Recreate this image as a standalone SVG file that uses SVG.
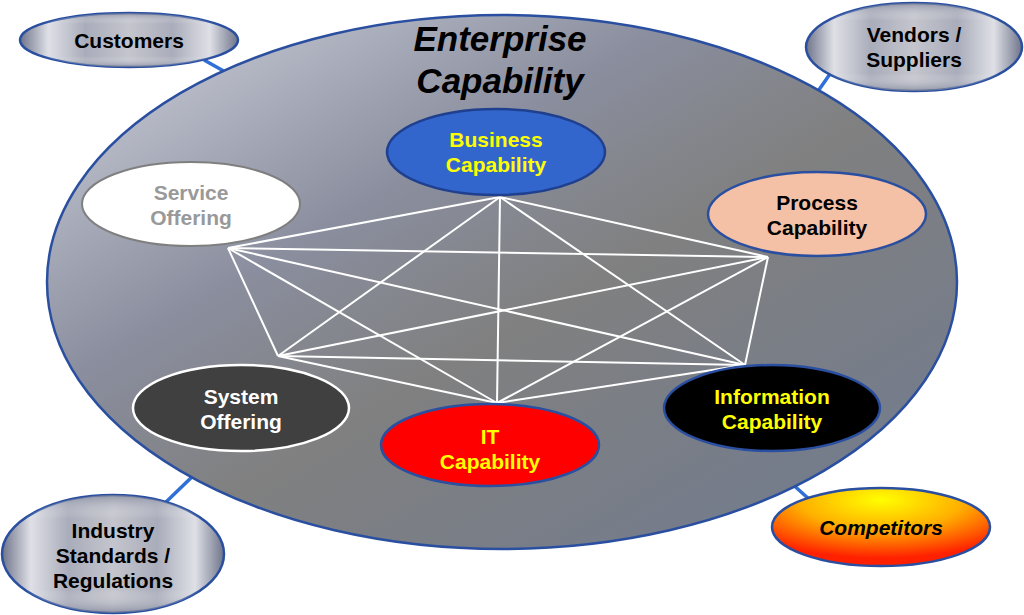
<svg xmlns="http://www.w3.org/2000/svg" width="1024" height="615" viewBox="0 0 1024 615">
<defs>
<linearGradient id="bigGrad" x1="0" y1="0" x2="1" y2="1">
<stop offset="0" stop-color="#d4d6e0"/>
<stop offset="0.35" stop-color="#8a8e9e"/>
<stop offset="0.55" stop-color="#808080"/>
<stop offset="1" stop-color="#6f7a90"/>
</linearGradient>
<linearGradient id="metal" x1="0" y1="0" x2="1" y2="0">
<stop offset="0" stop-color="#6e748a"/>
<stop offset="0.13" stop-color="#dfe0e6"/>
<stop offset="0.3" stop-color="#a9acba"/>
<stop offset="0.5" stop-color="#c4c5cd"/>
<stop offset="0.7" stop-color="#a9acba"/>
<stop offset="0.87" stop-color="#dfe0e6"/>
<stop offset="1" stop-color="#6e748a"/>
</linearGradient>
<linearGradient id="metalV" x1="0" y1="0" x2="0" y2="1">
<stop offset="0" stop-color="#7a7f94" stop-opacity="0.7"/>
<stop offset="0.2" stop-color="#ffffff" stop-opacity="0"/>
<stop offset="0.8" stop-color="#ffffff" stop-opacity="0"/>
<stop offset="1" stop-color="#7a7f94" stop-opacity="0.7"/>
</linearGradient>
<radialGradient id="fire" cx="0.5" cy="0.15" r="0.75">
<stop offset="0" stop-color="#ffff00"/>
<stop offset="0.5" stop-color="#ffb000"/>
<stop offset="1" stop-color="#ff2000"/>
</radialGradient>
</defs>
<style>
.blue{stroke:#2f6fd8;stroke-width:3.5}
.web line{stroke:#ffffff;stroke-width:2}
.t{font-family:"Liberation Sans",Arial,sans-serif;font-weight:bold;font-size:21px;text-anchor:middle}
.title{font-size:35px;font-style:italic}
.it{font-style:italic}
.outer{stroke:#2a4fa0;stroke-width:2.5}
</style>
<rect width="1024" height="615" fill="#ffffff"/>
<g id="links">
<line class="blue" x1="204" y1="60" x2="229" y2="74"/>
<line class="blue" x1="830" y1="74" x2="816" y2="94"/>
<line class="blue" x1="166" y1="502" x2="195" y2="474"/>
<line class="blue" x1="790" y1="482" x2="810" y2="500"/>
</g>
<g id="enterprise">
<ellipse cx="502" cy="282" rx="455" ry="267" fill="url(#bigGrad)" stroke="#2a4fa0" stroke-width="2.5"/>
<text class="t title" x="500" y="51" fill="#000">Enterprise</text>
<text class="t title" x="500" y="93" fill="#000">Capability</text>
</g>
<g id="connectors" class="web">
<line x1="500" y1="197" x2="228" y2="248"/>
<line x1="500" y1="197" x2="768" y2="257"/>
<line x1="500" y1="197" x2="278" y2="356"/>
<line x1="500" y1="197" x2="745" y2="365"/>
<line x1="500" y1="197" x2="497" y2="403"/>
<line x1="228" y1="248" x2="768" y2="257"/>
<line x1="228" y1="248" x2="278" y2="356"/>
<line x1="228" y1="248" x2="745" y2="365"/>
<line x1="228" y1="248" x2="497" y2="403"/>
<line x1="768" y1="257" x2="278" y2="356"/>
<line x1="768" y1="257" x2="745" y2="365"/>
<line x1="768" y1="257" x2="497" y2="403"/>
<line x1="278" y1="356" x2="745" y2="365"/>
<line x1="278" y1="356" x2="497" y2="403"/>
<line x1="745" y1="365" x2="497" y2="403"/>
</g>
<g id="business">
<ellipse cx="496" cy="152" rx="109" ry="43" fill="#3366cc" stroke="#1f3f8f" stroke-width="2.5"/>
<text class="t" x="496" y="146.5" fill="#ffff00">Business</text>
<text class="t" x="496" y="171.5" fill="#ffff00">Capability</text>
</g>
<g id="service">
<ellipse cx="191" cy="204" rx="109" ry="42" fill="#ffffff" stroke="#7f7f7f" stroke-width="2"/>
<text class="t" x="191" y="199.5" fill="#999999">Service</text>
<text class="t" x="191" y="224.5" fill="#999999">Offering</text>
</g>
<g id="process">
<ellipse cx="817" cy="214" rx="109" ry="42" fill="#f4c0a6" stroke="#2a4fa0" stroke-width="2.5"/>
<text class="t" x="817" y="209.5" fill="#000">Process</text>
<text class="t" x="817" y="234.5" fill="#000">Capability</text>
</g>
<g id="system">
<ellipse cx="241" cy="408" rx="108" ry="43" fill="#404040" stroke="#ffffff" stroke-width="2.5"/>
<text class="t" x="241" y="403.5" fill="#ffffff">System</text>
<text class="t" x="241" y="428.5" fill="#ffffff">Offering</text>
</g>
<g id="it">
<ellipse cx="490" cy="445" rx="109" ry="41" fill="#ff0000" stroke="#2a4fa0" stroke-width="2.5"/>
<text class="t" x="490" y="443.5" fill="#ffff00">IT</text>
<text class="t" x="490" y="468.5" fill="#ffff00">Capability</text>
</g>
<g id="information">
<ellipse cx="772" cy="408" rx="108" ry="43" fill="#000000" stroke="#2a4fa0" stroke-width="2.5"/>
<text class="t" x="772" y="403.5" fill="#ffff00">Information</text>
<text class="t" x="772" y="428.5" fill="#ffff00">Capability</text>
</g>
<g id="customers">
<ellipse cx="129" cy="40" rx="109" ry="27" fill="url(#metal)" class="outer"/>
<ellipse cx="129" cy="40" rx="109" ry="27" fill="url(#metalV)"/>
<text class="t" x="129" y="47.5" fill="#000">Customers</text>
</g>
<g id="vendors">
<ellipse cx="914" cy="47" rx="108" ry="44" fill="url(#metal)" class="outer"/>
<ellipse cx="914" cy="47" rx="108" ry="44" fill="url(#metalV)"/>
<text class="t" x="914" y="41.5" fill="#000">Vendors /</text>
<text class="t" x="914" y="66.5" fill="#000">Suppliers</text>
</g>
<g id="industry">
<ellipse cx="113" cy="554" rx="111" ry="59" fill="url(#metal)" class="outer"/>
<ellipse cx="113" cy="554" rx="111" ry="59" fill="url(#metalV)"/>
<text class="t" x="113" y="537.5" fill="#000">Industry</text>
<text class="t" x="113" y="562.5" fill="#000">Standards /</text>
<text class="t" x="113" y="587.5" fill="#000">Regulations</text>
</g>
<g id="competitors">
<ellipse cx="881" cy="527" rx="109" ry="39" fill="url(#fire)" class="outer"/>
<text class="t it" x="881" y="535" fill="#000">Competitors</text>
</g>
</svg>
